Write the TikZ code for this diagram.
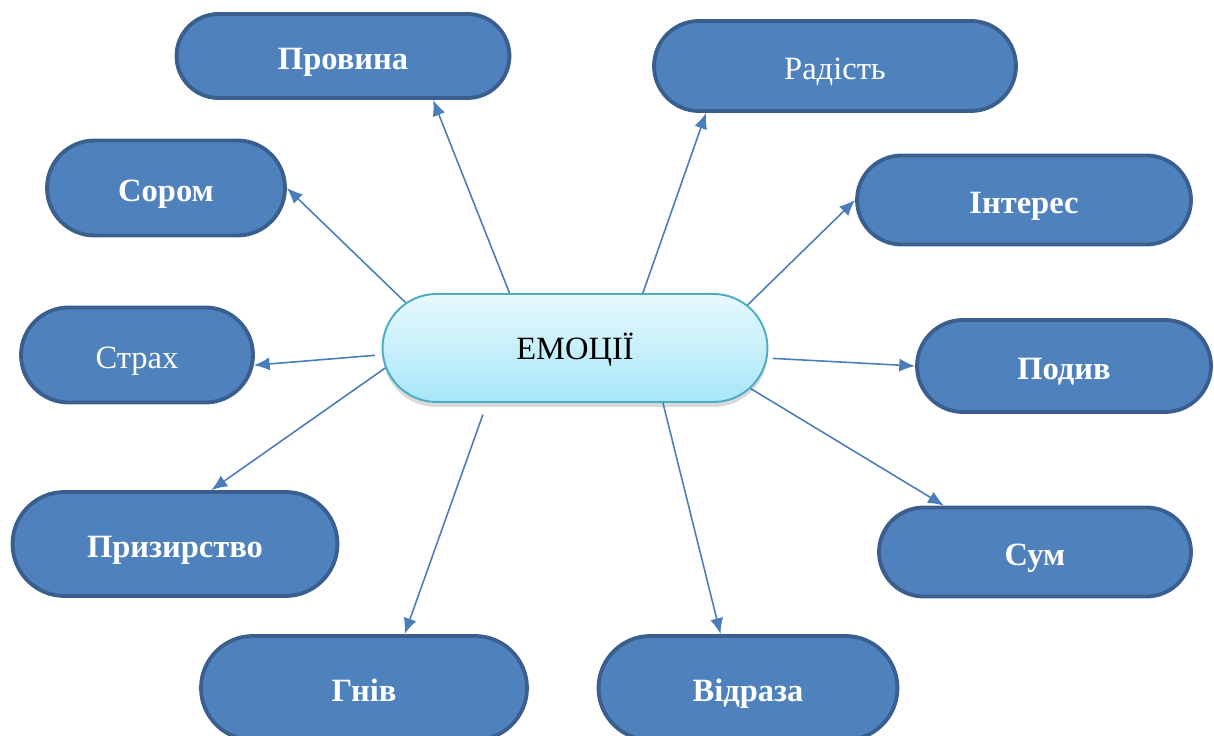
\documentclass[tikz,border=0pt]{standalone}
\usepackage{fontspec}
\setmainfont{Liberation Serif}
\usetikzlibrary{shapes.misc,arrows.meta,shadows}
\definecolor{boxfill}{HTML}{4F81BD}
\definecolor{boxline}{HTML}{3A5F8F}
\definecolor{linkblue}{HTML}{4A7EBB}
\definecolor{centretop}{HTML}{E8F9FD}
\definecolor{centrebot}{HTML}{A6E6F8}
\definecolor{centreline}{HTML}{4BACC6}
\newcommand{\emofont}{\fontsize{18.5}{22}\selectfont}
\tikzstyle{emotion} = [rounded rectangle, draw=boxline, fill=boxfill,
    line width=2.2pt, text=white, inner sep=0pt, font=\emofont\bfseries,
    text height=1.5em, text depth=0pt]
\tikzstyle{light} = [font=\emofont\mdseries]
\tikzstyle{centre} = [rounded rectangle, draw=centreline, line width=1.1pt,
    top color=centretop, bottom color=centrebot, inner sep=0pt,
    minimum width=7.7cm, minimum height=2.16cm, font=\emofont,
    text height=1.3em, text depth=0pt,
    drop shadow={shadow xshift=0pt, shadow yshift=-0.1cm, opacity=0.3}]
\tikzstyle{link} = [draw=linkblue, line width=0.9pt, ->]

\begin{document}
\begin{tikzpicture}[x=0.02cm, y=-0.02cm, >={Latex[length=9pt,width=7.5pt]}]
    \useasboundingbox (0,0) rectangle (1214,736);
    % the central node
    \node [centre] (emo) at (575,348) {ЕМОЦІЇ};

    % the emotions round it
    \node [emotion, minimum width=6.66cm, minimum height=1.68cm] (prov) at (343,56) {Провина};
    \node [emotion, light, minimum width=7.24cm, minimum height=1.80cm] (rad) at (835,66) {Радість};
    \node [emotion, minimum width=4.76cm, minimum height=1.90cm] (sor) at (166,188) {Сором};
    \node [emotion, minimum width=6.68cm, minimum height=1.78cm] (inter) at (1024,200) {Інтерес};
    \node [emotion, light, minimum width=4.64cm, minimum height=1.90cm] (strakh) at (137,355) {Страх};
    \node [emotion, minimum width=5.88cm, minimum height=1.84cm] (podyv) at (1064,366) {Подив};
    \node [emotion, minimum width=6.50cm, minimum height=2.08cm] (pryz) at (175,544) {Призирство};
    \node [emotion, minimum width=6.24cm, minimum height=1.78cm] (sum) at (1035,552) {Сум};
    \node [emotion, minimum width=6.52cm, minimum height=2.08cm] (hniv) at (364,688) {Гнів};
    \node [emotion, minimum width=5.98cm, minimum height=2.08cm] (vidr) at (748,688) {Відраза};

    % connectors from the centre outwards
    \draw [link] (emo.140) -- (prov.-26);
    \draw [link] (emo.39) -- (rad.-160);
    \draw [link] (emo.165) -- (sor.east);
    \draw [link] (emo.14) -- (inter.west);
    \draw [link, shorten <=4pt] (emo.182) -- (strakh.-5);
    \draw [link, shorten <=3pt] (emo.-3) -- (podyv.west);
    \draw [link] (emo.186) -- (pryz.56);
    \draw [link] (emo.-13) -- (sum.153);
    \draw [link, shorten <=7pt] (emo.212) -- (hniv.53);
    \draw [link] (emo.-32) -- (vidr.117);
\end{tikzpicture}
\end{document}
